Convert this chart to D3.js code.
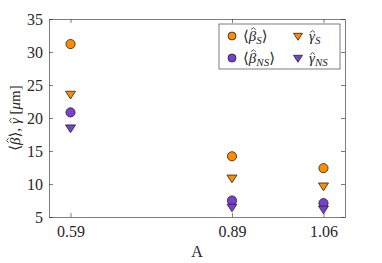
<!DOCTYPE html>
<html>
<head>
<meta charset="utf-8">
<script src="https://cdn.jsdelivr.net/npm/d3@7"></script>
<style>
  body { margin: 0; background: #fff; }
  svg text { font-family: "Liberation Serif", "DejaVu Serif", "Times New Roman", serif; fill: #262626; }
  .math { font-style: italic; }
</style>
</head>
<body>
<div id="wrapper"></div>
<script>
// data
const aValues = [0.59, 0.89, 1.06];
const betaS = [31.2, 14.2, 12.4];
const gammaS = [23.6, 10.9, 9.7];
const betaNS = [20.85, 7.5, 7.1];
const gammaNS = [18.5, 6.5, 6.2];
const yTicks = [5, 10, 15, 20, 25, 30, 35];

const orange = "#ff8c00";
const purple = "#7b3fd0";
const serif = "'Liberation Serif', 'DejaVu Serif', serif";

let dimensions = {
  width: 382,
  height: 263,
  margins: { top: 19, right: 37, bottom: 46, left: 49 },
};
dimensions.boundedWidth = dimensions.width - dimensions.margins.left - dimensions.margins.right;
dimensions.boundedHeight = dimensions.height - dimensions.margins.top - dimensions.margins.bottom;

const wrapper = d3.select("#wrapper")
  .append("svg")
  .attr("width", dimensions.width)
  .attr("height", dimensions.height);

const bounds = wrapper.append("g")
  .attr("transform", `translate(${dimensions.margins.left},${dimensions.margins.top})`);

const xScale = d3.scaleLinear().domain([0.55, 1.1]).range([0, dimensions.boundedWidth]);
const yScale = d3.scaleLinear().domain([5, 35]).range([dimensions.boundedHeight, 0]);

// axes, ticks inward like matlab
const tickLen = 4;
const xAxisBottom = bounds.append("g")
  .attr("transform", `translate(0,${dimensions.boundedHeight})`)
  .call(d3.axisBottom(xScale).tickValues(aValues).tickFormat(d3.format(".2f"))
    .tickSizeInner(-tickLen).tickSizeOuter(0).tickPadding(9));
const xAxisTop = bounds.append("g")
  .call(d3.axisTop(xScale).tickValues(aValues).tickFormat("")
    .tickSizeInner(-tickLen).tickSizeOuter(0));
const yAxisLeft = bounds.append("g")
  .call(d3.axisLeft(yScale).tickValues(yTicks)
    .tickSizeInner(-tickLen).tickSizeOuter(0).tickPadding(6));
const yAxisRight = bounds.append("g")
  .attr("transform", `translate(${dimensions.boundedWidth},0)`)
  .call(d3.axisRight(yScale).tickValues(yTicks).tickFormat("")
    .tickSizeInner(-tickLen).tickSizeOuter(0));

[xAxisBottom, xAxisTop, yAxisLeft, yAxisRight].forEach((ax) => {
  ax.attr("font-family", serif).attr("font-size", 16);
  ax.select(".domain").attr("stroke", "#262626").attr("stroke-width", 0.6);
  ax.selectAll(".tick line").attr("stroke", "#262626").attr("stroke-width", 0.6);
  ax.selectAll(".tick text").attr("fill", "#262626");
});

// hat over one character: small caret path drawn in the text's parent
// drop = how far below the top of the char box the hat sits (fraction of box)
function addHat(parent, textNode, charIndex, size, drop) {
  const box = textNode.getExtentOfChar(charIndex);
  const cx = box.x + box.width * 0.6;
  const top = box.y + box.height * drop;
  parent.append("path")
    .attr("d", `M${cx - size},${top}L${cx},${top - size * 0.8}L${cx + size},${top}`)
    .attr("fill", "none")
    .attr("stroke", "#262626")
    .attr("stroke-width", 0.8);
}

// axis labels
wrapper.append("text")
  .attr("x", dimensions.margins.left + dimensions.boundedWidth / 2)
  .attr("y", 257)
  .attr("text-anchor", "middle")
  .attr("font-size", 16)
  .text("A");

const yLabelGroup = wrapper.append("g")
  .attr("transform", `translate(20,${dimensions.margins.top + dimensions.boundedHeight / 2}) rotate(-90)`);
const yLabel = yLabelGroup.append("text")
  .attr("text-anchor", "middle")
  .attr("font-size", 15);
yLabel.append("tspan").text("⟨");
yLabel.append("tspan").attr("class", "math").text("β");
yLabel.append("tspan").text("⟩, ");
yLabel.append("tspan").attr("class", "math").text("γ");
yLabel.append("tspan").text(" [");
yLabel.append("tspan").attr("class", "math").text("μ");
yLabel.append("tspan").text("m]");
addHat(yLabelGroup, yLabel.node(), 1, 2.4, 0.1);
addHat(yLabelGroup, yLabel.node(), 5, 2.4, 0.28);

// markers
const circleR = 4.6;
const triPath = (s) => `M${-s},${-s * 0.6}L${s},${-s * 0.6}L0,${s * 0.95}Z`;

const series = [
  { values: betaS, color: orange, shape: "circle" },
  { values: gammaS, color: orange, shape: "triangle" },
  { values: betaNS, color: purple, shape: "circle" },
  { values: gammaNS, color: purple, shape: "triangle" },
];

series.forEach((s) => {
  const pts = aValues.map((a, i) => ({ a, v: s.values[i] }));
  if (s.shape === "circle") {
    bounds.selectAll(null).data(pts).join("circle")
      .attr("cx", (d) => xScale(d.a))
      .attr("cy", (d) => yScale(d.v))
      .attr("r", circleR)
      .attr("fill", s.color)
      .attr("stroke", "#222")
      .attr("stroke-width", 0.8);
  } else {
    bounds.selectAll(null).data(pts).join("path")
      .attr("transform", (d) => `translate(${xScale(d.a)},${yScale(d.v)})`)
      .attr("d", triPath(5))
      .attr("fill", s.color)
      .attr("stroke", "#222")
      .attr("stroke-width", 0.8);
  }
});

// legend
const legend = wrapper.append("g").attr("transform", "translate(219,24)");
legend.append("rect")
  .attr("width", 121).attr("height", 45)
  .attr("fill", "#fff").attr("stroke", "#262626").attr("stroke-width", 0.6);

const legendItems = [
  { color: orange, shape: "circle", base: "β", sub: "S", col: 0, row: 0, brackets: true },
  { color: purple, shape: "circle", base: "β", sub: "NS", col: 0, row: 1, brackets: true },
  { color: orange, shape: "triangle", base: "γ", sub: "S", col: 1, row: 0, brackets: false },
  { color: purple, shape: "triangle", base: "γ", sub: "NS", col: 1, row: 1, brackets: false },
];
legendItems.forEach((d) => {
  const gx = d.col === 0 ? 13 : 79;
  const gy = d.row === 0 ? 12 : 34;
  if (d.shape === "circle") {
    legend.append("circle").attr("cx", gx).attr("cy", gy).attr("r", 4)
      .attr("fill", d.color).attr("stroke", "#222").attr("stroke-width", 0.8);
  } else {
    legend.append("path").attr("transform", `translate(${gx},${gy})`)
      .attr("d", triPath(4.5))
      .attr("fill", d.color).attr("stroke", "#222").attr("stroke-width", 0.8);
  }
  const t = legend.append("text").attr("x", gx + 11).attr("y", gy + 5).attr("font-size", 15);
  if (d.brackets) t.append("tspan").text("⟨");
  t.append("tspan").attr("class", "math").text(d.base);
  t.append("tspan").attr("class", "math").attr("dy", 3).attr("font-size", 11).text(d.sub);
  if (d.brackets) t.append("tspan").attr("dy", -3).text("⟩");
  addHat(legend, t.node(), d.brackets ? 1 : 0, 2.3, d.base === "β" ? 0.1 : 0.28);
});
</script>
</body>
</html>
